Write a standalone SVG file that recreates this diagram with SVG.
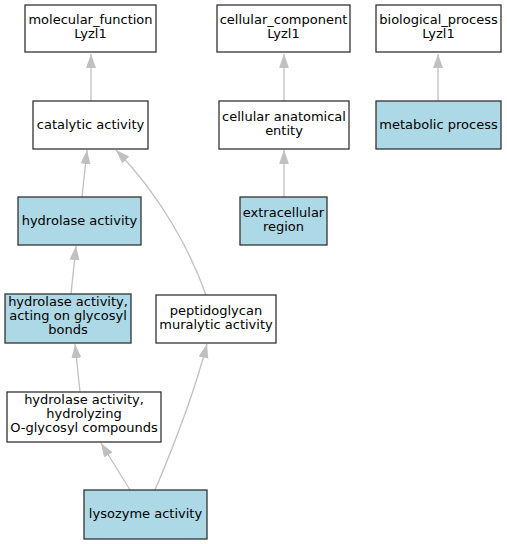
<svg xmlns="http://www.w3.org/2000/svg" width="507" height="544" viewBox="0 0 507 544">
<style>
.n rect{stroke:#333;stroke-width:1.3;fill:#fff}
.n.h rect{fill:#add8e6}
.n text{font-family:"DejaVu Sans",sans-serif;font-size:13px;fill:#000;text-anchor:middle}
#edges path{fill:none;stroke:#c0c0c0;stroke-width:1.3;marker-end:url(#ah)}
</style>
<defs>
<marker id="ah" markerUnits="userSpaceOnUse" markerWidth="15" markerHeight="11" refX="14" refY="5" orient="auto">
<path d="M0,0 L14,5 L0,10 z" fill="#c0c0c0" stroke="none"/>
</marker>
</defs>
<rect width="507" height="544" fill="#fff"/>
<g id="edges">
<path d="M91,101 L91,54"/>
<path d="M284,101 L284,54"/>
<path d="M438,101 L438,54"/>
<path d="M82,197 L87,150"/>
<path d="M206,295 C190,250 160,195 116,150"/>
<path d="M284,197 L284,150"/>
<path d="M71,294 L76,246"/>
<path d="M80,392 L75,344"/>
<path d="M130,490 L101,443"/>
<path d="M155,490 C172,450 195,390 207,344"/>
</g>
<g id="molecular_function" class="n"><rect x="25" y="5" width="131" height="47"/><text x="90.5" y="24">molecular_function</text><text x="90.5" y="38">Lyzl1</text></g>
<g id="cellular_component" class="n"><rect x="217" y="5" width="133" height="47"/><text x="283.5" y="24">cellular_component</text><text x="283.5" y="38">Lyzl1</text></g>
<g id="biological_process" class="n"><rect x="376" y="5" width="125" height="47"/><text x="438.5" y="24">biological_process</text><text x="438.5" y="38">Lyzl1</text></g>
<g id="catalytic_activity" class="n"><rect x="33" y="101" width="115" height="48"/><text x="90.5" y="128.5">catalytic activity</text></g>
<g id="cellular_anatomical_entity" class="n"><rect x="219" y="101" width="130" height="48"/><text x="284" y="121">cellular anatomical</text><text x="284" y="135">entity</text></g>
<g id="metabolic_process" class="n h"><rect x="376" y="101" width="125" height="48"/><text x="438.5" y="128.5">metabolic process</text></g>
<g id="hydrolase_activity" class="n h"><rect x="18" y="197" width="123" height="48"/><text x="79.5" y="224.5">hydrolase activity</text></g>
<g id="extracellular_region" class="n h"><rect x="240" y="197" width="87" height="48"/><text x="283.5" y="217">extracellular</text><text x="283.5" y="231">region</text></g>
<g id="glycosyl_bonds" class="n h"><rect x="5" y="294" width="126" height="49"/><text x="68" y="306">hydrolase activity,</text><text x="68" y="320">acting on glycosyl</text><text x="68" y="334">bonds</text></g>
<g id="peptidoglycan" class="n"><rect x="156" y="295" width="120" height="48"/><text x="216" y="315">peptidoglycan</text><text x="216" y="329">muralytic activity</text></g>
<g id="o_glycosyl" class="n"><rect x="7" y="392" width="154" height="50"/><text x="84" y="404">hydrolase activity,</text><text x="84" y="418">hydrolyzing</text><text x="84" y="432">O-glycosyl compounds</text></g>
<g id="lysozyme_activity" class="n h"><rect x="84" y="490" width="123" height="49"/><text x="145.5" y="517.5">lysozyme activity</text></g>
</svg>
